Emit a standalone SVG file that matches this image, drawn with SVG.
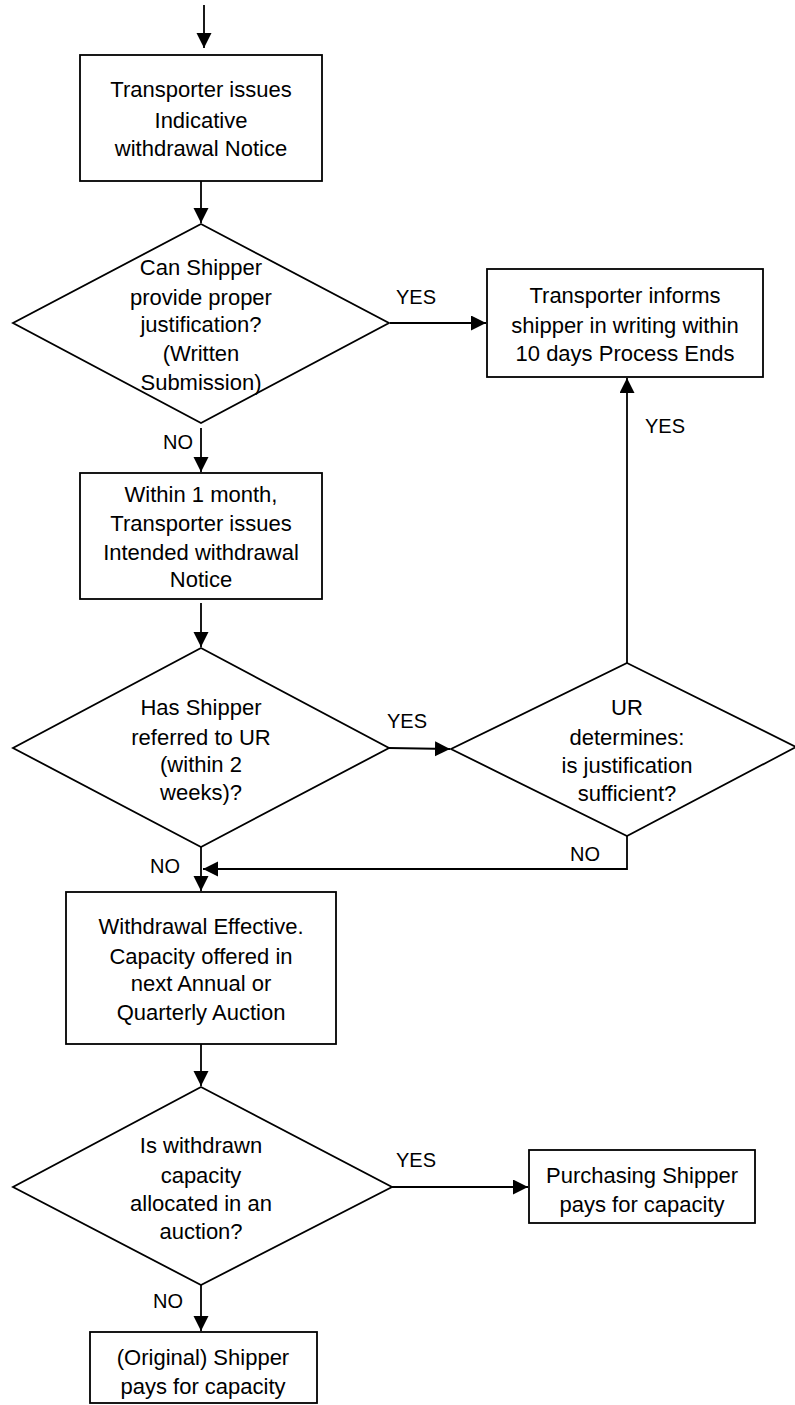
<svg xmlns="http://www.w3.org/2000/svg" width="795" height="1405" viewBox="0 0 795 1405">
<style>
.shape{fill:#fff;stroke:#000;stroke-width:1.8}
.conn{fill:none;stroke:#000;stroke-width:1.8}
text{font-family:"Liberation Sans",Arial,sans-serif;font-size:22px;fill:#000;text-anchor:middle}
text.lbl{font-size:20px}
</style>
<defs>
<marker id="arr" markerUnits="userSpaceOnUse" markerWidth="16" markerHeight="16" refX="15" refY="7.5" orient="auto">
<path d="M0,0 L15,7.5 L0,15 z" fill="#000"/>
</marker>
</defs>
<rect width="795" height="1405" fill="#fff"/>
<g id="connectors">
<line class="conn" x1="204" y1="5" x2="204" y2="48" marker-end="url(#arr)"/>
<line class="conn" x1="201" y1="181" x2="201" y2="223" marker-end="url(#arr)"/>
<line class="conn" x1="390" y1="323" x2="486" y2="323" marker-end="url(#arr)"/>
<line class="conn" x1="201" y1="428" x2="201" y2="472" marker-end="url(#arr)"/>
<line class="conn" x1="201" y1="603" x2="201" y2="647" marker-end="url(#arr)"/>
<line class="conn" x1="389" y1="748" x2="450" y2="749" marker-end="url(#arr)"/>
<line class="conn" x1="627" y1="663" x2="627" y2="378" marker-end="url(#arr)"/>
<polyline class="conn" points="627,836 627,869 203,869" marker-end="url(#arr)"/>
<line class="conn" x1="201" y1="847" x2="201" y2="891" marker-end="url(#arr)"/>
<line class="conn" x1="201" y1="1044" x2="201" y2="1086" marker-end="url(#arr)"/>
<line class="conn" x1="392" y1="1187" x2="528" y2="1187" marker-end="url(#arr)"/>
<line class="conn" x1="201" y1="1285" x2="201" y2="1331" marker-end="url(#arr)"/>
<text class="lbl" x="416" y="304">YES</text>
<text class="lbl" x="665" y="433">YES</text>
<text class="lbl" x="407" y="728">YES</text>
<text class="lbl" x="178" y="449">NO</text>
<text class="lbl" x="165" y="873">NO</text>
<text class="lbl" x="585" y="861">NO</text>
<text class="lbl" x="416" y="1167">YES</text>
<text class="lbl" x="168" y="1308">NO</text>
</g>
<g id="n1">
<rect class="shape" x="80" y="55" width="242" height="126"/>
<text x="201" y="97">Transporter issues</text>
<text x="201" y="128">Indicative</text>
<text x="201" y="156">withdrawal Notice</text>
</g>
<g id="d1">
<polygon class="shape" points="201,224 389,323 201,423 13,323"/>
<text x="201" y="275">Can Shipper</text>
<text x="201" y="305">provide proper</text>
<text x="201" y="332">justification?</text>
<text x="201" y="361">(Written</text>
<text x="201" y="390">Submission)</text>
</g>
<g id="n2">
<rect class="shape" x="487" y="269" width="276" height="108"/>
<text x="625" y="303">Transporter informs</text>
<text x="625" y="333">shipper in writing within</text>
<text x="625" y="361">10 days Process Ends</text>
</g>
<g id="n3">
<rect class="shape" x="80" y="473" width="242" height="126"/>
<text x="201" y="502">Within 1 month,</text>
<text x="201" y="531">Transporter issues</text>
<text x="201" y="560">Intended withdrawal</text>
<text x="201" y="587">Notice</text>
</g>
<g id="d2">
<polygon class="shape" points="201,648 389,748 201,847 13,748"/>
<text x="201" y="715">Has Shipper</text>
<text x="201" y="745">referred to UR</text>
<text x="201" y="772">(within 2</text>
<text x="201" y="800">weeks)?</text>
</g>
<g id="d3">
<polygon class="shape" points="627,663 796,747 627,836 451,749"/>
<text x="627" y="715">UR</text>
<text x="627" y="745">determines:</text>
<text x="627" y="773">is justification</text>
<text x="627" y="801">sufficient?</text>
</g>
<g id="n4">
<rect class="shape" x="66" y="892" width="270" height="152"/>
<text x="201" y="934">Withdrawal Effective.</text>
<text x="201" y="964">Capacity offered in</text>
<text x="201" y="991">next Annual or</text>
<text x="201" y="1020">Quarterly Auction</text>
</g>
<g id="d4">
<polygon class="shape" points="201,1087 392,1187 201,1285 13,1187"/>
<text x="201" y="1153">Is withdrawn</text>
<text x="201" y="1183">capacity</text>
<text x="201" y="1211">allocated in an</text>
<text x="201" y="1239">auction?</text>
</g>
<g id="n5">
<rect class="shape" x="529" y="1150" width="226" height="73"/>
<text x="642" y="1183">Purchasing Shipper</text>
<text x="642" y="1212">pays for capacity</text>
</g>
<g id="n6">
<rect class="shape" x="90" y="1332" width="227" height="71"/>
<text x="203" y="1365">(Original) Shipper</text>
<text x="203" y="1394">pays for capacity</text>
</g>
</svg>
